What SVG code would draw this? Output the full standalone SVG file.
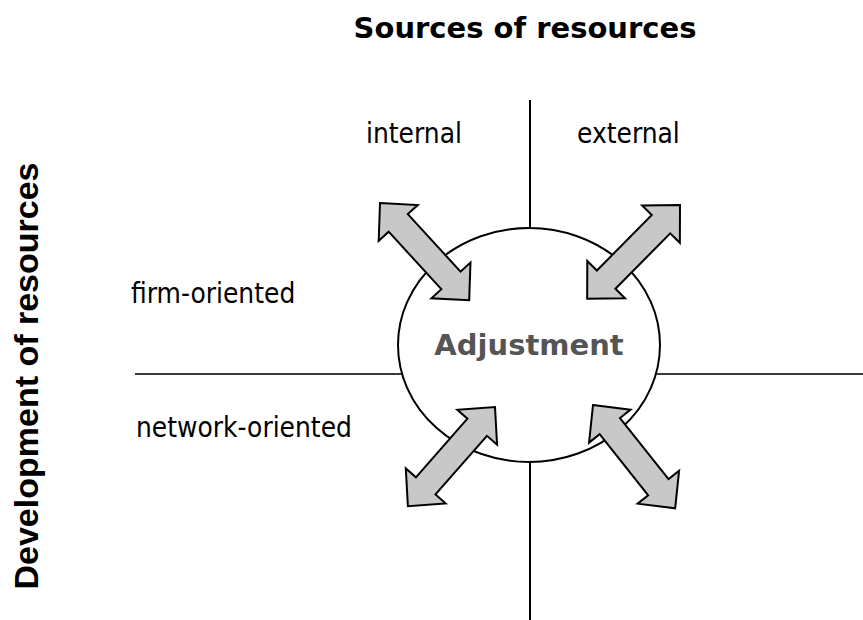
<svg xmlns="http://www.w3.org/2000/svg" width="863" height="620" viewBox="0 0 863 620">
  <style>
    .axis { stroke: #000; stroke-width: 2; fill: none; }
    .axis-h { stroke: #3a3a3a; stroke-width: 2; fill: none; }
    .title { font-family: "DejaVu Sans", Verdana, sans-serif; font-weight: bold; fill: #000; }
    .side-title { font-family: "Liberation Sans", Arial, sans-serif; font-weight: bold; fill: #000; }
    .label { font-family: "DejaVu Sans Condensed", "DejaVu Sans", Tahoma, sans-serif; font-stretch: condensed; font-size: 27.8px; fill: #000; }
    .center-label { font-family: "DejaVu Sans", Verdana, sans-serif; font-weight: bold; font-size: 29px; fill: #555; }
    .arrow { fill: #c8c8c8; stroke: #000; stroke-width: 2; stroke-linejoin: miter; }
    .hub { fill: #fff; stroke: #000; stroke-width: 2; }
  </style>
  <defs>
    <!-- double-headed block arrow, tip at origin, pointing along +x -->
    <path id="dblArrow" d="M0,0 L27,-26.5 L27,-13 L105,-13 L105,-26.5 L132,0 L105,26.5 L105,13 L27,13 L27,26.5 Z"/>
  </defs>

  <rect width="863" height="620" fill="#fff"/>

  <!-- quadrant axes -->
  <g id="axes">
    <line class="axis" x1="530" y1="100" x2="530" y2="620"/>
    <line class="axis-h" x1="135" y1="374" x2="863" y2="374"/>
  </g>

  <!-- headings -->
  <text class="title" x="525" y="38" font-size="29" text-anchor="middle">Sources of resources</text>
  <text class="side-title" font-size="34" text-anchor="middle" transform="translate(38,376) rotate(-90)">Development of resources</text>

  <!-- quadrant labels -->
  <g id="labels">
    <text class="label" x="366" y="143">internal</text>
    <text class="label" x="577" y="143">external</text>
    <text class="label" x="131" y="303">firm-oriented</text>
    <text class="label" x="136" y="437">network-oriented</text>
  </g>

  <!-- central node -->
  <g id="adjustment">
    <ellipse class="hub" cx="529" cy="345" rx="131" ry="117"/>
    <text class="center-label" x="529" y="355" text-anchor="middle">Adjustment</text>
  </g>

  <!-- exchange arrows between the centre and each quadrant -->
  <g id="connectors">
    <use href="#dblArrow" class="arrow" transform="translate(380,203) rotate(47.5)"/>
    <use href="#dblArrow" class="arrow" transform="translate(680,205) rotate(134.7)"/>
    <use href="#dblArrow" class="arrow" transform="translate(495,407) rotate(131.3)"/>
    <use href="#dblArrow" class="arrow" transform="translate(593,405) rotate(51.5)"/>
  </g>
</svg>
